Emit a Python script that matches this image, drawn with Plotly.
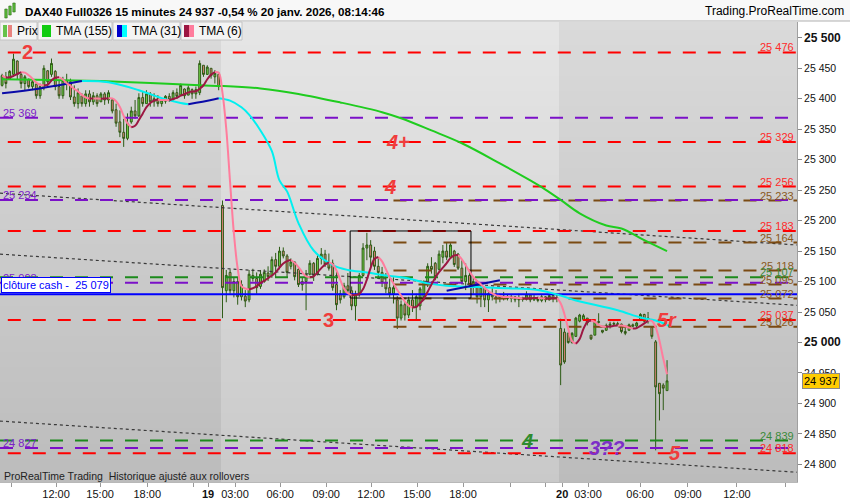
import plotly.graph_objects as go
import pandas as pd

# ---------------- DATA ----------------
# 15-minute bars, Fri 16 / Mon 19 / Tue 20 Jan 2026 (bar index on x)
fri_open = [25422, 25436, 25432, 25440, 25462, 25440, 25425, 25432, 25420, 25424, 25405, 25418, 25446, 25440, 25445,
            25420, 25405, 25430, 25428, 25403, 25392, 25405, 25392, 25408, 25395, 25405, 25395, 25408, 25398, 25398,
            25382, 25362, 25345, 25335, 25362, 25380, 25372, 25402, 25392, 25408, 25395, 25400, 25392, 25396, 25404,
            25398, 25410, 25406, 25416, 25406, 25415, 25408, 25410, 25455, 25440, 25450, 25436, 25440]
fri_high = [25441, 25444, 25447, 25474, 25463, 25444, 25439, 25433, 25433, 25425, 25425, 25455, 25447, 25466, 25447,
            25431, 25436, 25441, 25433, 25422, 25417, 25409, 25414, 25414, 25411, 25409, 25411, 25411, 25414, 25400,
            25392, 25381, 25367, 25376, 25387, 25398, 25409, 25411, 25414, 25411, 25409, 25406, 25400, 25406, 25409,
            25414, 25417, 25425, 25417, 25422, 25417, 25420, 25463, 25455, 25455, 25450, 25447, 25444]
fri_low = [25420, 25417, 25431, 25436, 25431, 25417, 25414, 25417, 25414, 25400, 25400, 25414, 25420, 25436, 25414,
           25400, 25400, 25414, 25398, 25387, 25384, 25387, 25387, 25387, 25390, 25387, 25395, 25390, 25392, 25376,
           25354, 25337, 25321, 25332, 25359, 25367, 25370, 25387, 25392, 25387, 25387, 25387, 25387, 25392, 25395,
           25398, 25400, 25406, 25400, 25406, 25400, 25400, 25406, 25436, 25439, 25433, 25425, 25414]
fri_close = [25438, 25425, 25445, 25465, 25440, 25425, 25436, 25420, 25428, 25405, 25420, 25450, 25428, 25458, 25420,
             25405, 25430, 25425, 25403, 25392, 25410, 25392, 25408, 25395, 25405, 25392, 25408, 25398, 25410, 25380,
             25360, 25345, 25335, 25360, 25380, 25372, 25402, 25392, 25408, 25395, 25400, 25392, 25398, 25404, 25398,
             25410, 25404, 25422, 25405, 25418, 25408, 25415, 25458, 25440, 25452, 25438, 25442, 25420]

mon_open = [25225, 25085, 25115, 25085, 25100, 25075, 25076, 25070, 25110, 25105, 25092, 25100, 25114, 25110, 25136,
            25125, 25150, 25142, 25125, 25132, 25120, 25095, 25100, 25112, 25130, 25112, 25138, 25145, 25130, 25130,
            25095, 25080, 25075, 25093, 25085, 25060, 25078, 25110, 25155, 25160, 25150, 25125, 25115, 25098, 25090,
            25080, 25070, 25040, 25062, 25045, 25070, 25058, 25060, 25075, 25095, 25125, 25130, 25120, 25140, 25150,
            25140, 25150, 25145, 25122, 25100, 25110, 25095, 25100, 25075, 25090, 25070, 25080, 25075, 25072, 25076,
            25074, 25072, 25075, 25070, 25072, 25071, 25078, 25070, 25074, 25069, 25075, 25070, 25077, 25072]
mon_high = [25233, 25119, 25120, 25107, 25106, 25102, 25086, 25119, 25121, 25115, 25119, 25120, 25125, 25141, 25147,
            25157, 25156, 25145, 25138, 25133, 25125, 25107, 25119, 25135, 25132, 25143, 25155, 25152, 25146, 25136,
            25119, 25086, 25098, 25114, 25092, 25085, 25114, 25163, 25180, 25168, 25157, 25140, 25124, 25114, 25107,
            25107, 25076, 25069, 25066, 25075, 25086, 25080, 25091, 25102, 25130, 25140, 25132, 25151, 25160, 25164,
            25163, 25152, 25147, 25135, 25130, 25119, 25108, 25102, 25097, 25091, 25086, 25091, 25086, 25080, 25083,
            25078, 25078, 25076, 25080, 25075, 25084, 25079, 25078, 25075, 25078, 25076, 25080, 25078, 25078]
mon_low = [25040, 25066, 25080, 25074, 25062, 25069, 25058, 25066, 25100, 25080, 25088, 25098, 25101, 25106, 25107,
           25120, 25138, 25106, 25120, 25102, 25091, 25085, 25053, 25110, 25101, 25110, 25128, 25124, 25118, 25085,
           25053, 25064, 25072, 25080, 25053, 25036, 25075, 25108, 25135, 25124, 25119, 25107, 25091, 25081, 25074,
           25064, 25022, 25036, 25036, 25040, 25050, 25036, 25053, 25069, 25091, 25113, 25102, 25118, 25130, 25135,
           25138, 25124, 25119, 25097, 25086, 25091, 25080, 25064, 25058, 25058, 25050, 25069, 25064, 25066, 25069,
           25069, 25066, 25066, 25058, 25067, 25069, 25066, 25068, 25066, 25066, 25066, 25069, 25066, 25066]
mon_close = [25090, 25110, 25085, 25100, 25075, 25095, 25068, 25112, 25105, 25090, 25112, 25115, 25108, 25136, 25125,
             25150, 25142, 25115, 25132, 25108, 25095, 25100, 25112, 25130, 25110, 25138, 25145, 25128, 25122, 25090,
             25062, 25070, 25093, 25085, 25060, 25078, 25110, 25155, 25160, 25140, 25125, 25115, 25098, 25088, 25080,
             25090, 25040, 25062, 25045, 25070, 25058, 25075, 25088, 25100, 25125, 25120, 25108, 25145, 25150, 25140,
             25160, 25128, 25122, 25100, 25110, 25095, 25100, 25075, 25090, 25070, 25080, 25075, 25072, 25076, 25074,
             25072, 25075, 25070, 25072, 25071, 25078, 25070, 25074, 25069, 25075, 25070, 25077, 25072, 25074]

tue_open = [25023, 25017, 25015, 25000, 25010, 25035, 25038, 25040, 25012, 25012, 25033, 25020, 25020, 25028, 25030,
            25031, 25030, 25018, 25020, 25029, 25027, 25036, 25046, 25035, 25025, 25001, 24933, 24930, 24921]
tue_high = [25039, 25023, 25017, 25017, 25042, 25047, 25047, 25040, 25012, 25036, 25048, 25020, 25031, 25034, 25034,
            25034, 25031, 25025, 25031, 25031, 25034, 25048, 25047, 25050, 25025, 25004, 24933, 24933, 24971]
tue_low = [24930, 24965, 24998, 24998, 25009, 25033, 25036, 25028, 25004, 25012, 25031, 25015, 25019, 25023, 25028,
           25028, 25015, 25012, 25020, 25025, 25022, 25036, 25033, 25031, 25006, 24823, 24872, 24889, 24921]
tue_close = [24963, 24968, 25000, 25015, 25040, 25045, 25044, 25032, 25006, 25034, 25034, 25017, 25028, 25030, 25031,
             25029, 25018, 25015, 25029, 25027, 25032, 25046, 25035, 25040, 25010, 24927, 24916, 24925, 24937]

# TMA(155) (bar index, value)
tma155_x = [0, 13, 26, 39, 52, 58, 68, 78, 89, 100, 105, 113, 121, 131, 139, 142, 147, 152, 159, 163, 169, 175]
tma155_y = [25432, 25431, 25429, 25426, 25422, 25421, 25417, 25408, 25394, 25378, 25368, 25348, 25327, 25294,
            25266, 25255, 25234, 25212, 25192, 25187, 25168, 25150]
# TMA(31)
tma31_x = [0, 10, 21, 28, 36, 42, 47, 49, 55, 57, 60, 63, 65, 68, 71, 73, 75, 78, 82, 87, 91, 96, 101, 107, 112,
           117, 125, 133, 141, 147, 151, 162, 168, 172, 176]
tma31_y = [25409, 25417, 25429, 25427, 25414, 25401, 25393, 25391, 25398, 25401, 25397, 25386, 25374, 25348, 25314,
           25266, 25248, 25196, 25151, 25127, 25119, 25115, 25110, 25105, 25097, 25093, 25091, 25089, 25086, 25077,
           25069, 25053, 25041, 25036, 25026]
tma31_seg_x = [117, 131]
tma31_seg_y = [25085, 25102]

# horizontal levels
red_levels = [25476, 25329, 25256, 25183, 25037, 24818]
purple_levels = [25369, 25234, 25098, 24827]
green_levels = [25107, 24839]
brown_levels = [25233, 25164, 25118, 25095, 25072, 25026]
brown_start = 103
cash_close = 25079

# dotted trend lines (ends at the chart edges)
trend_x = [-0.55, 209.2]
trend_lines = [[25245, 25160], [25145, 25061], [24871, 24787]]

# rectangle drawn on the chart
box_x = [91.6, 123.4]
box_y = [25073, 25183]

# wave labels: (bar index, price, text, colour)
wave_labels = [
    (6.6, 25476, "<b>2</b>", "#f03c3c"),
    (104.2, 25329, "<b><i>4+</i></b>", "#f03c3c"),
    (102.0, 25256, "<b><i>4</i></b>", "#f03c3c"),
    (85.8, 25037, "<b>3</b>", "#f03c3c"),
    (138.2, 24839, "<b><i>4</i></b>", "#2e8b2e"),
    (159.2, 24827, "<b><i>3??</i></b>", "#7d2fc8"),
    (177.1, 24818, "<b><i>5</i></b>", "#f03c3c"),
    (175.0, 25037, "<b><i>5r</i></b>", "#f03c3c"),
]

session_starts = [0, 58, 147]

# x tick positions (bar index) and labels
tick_idx = [2.4, 14.2, 25.8, 38.2, 50.5, 54.2, 61.3, 73.2, 85.3, 97.1, 109.2, 121.3, 133.7, 142.9, 147.4, 154.2,
            167.9, 180.5, 193.4, 206.3]
tick_lbl = ["", "12:00", "15:00", "18:00", "", "<b>19</b>", "03:00", "06:00", "09:00", "12:00", "15:00", "18:00",
            "", "", "<b>20</b>", "03:00", "06:00", "09:00", "12:00", ""]

last_price = 24937
y_range = [24771, 25526]
x_range = [-0.55, 209.2]

# ---------------- BUILD ----------------
opens = fri_open + mon_open + tue_open
highs = fri_high + mon_high + tue_high
lows = fri_low + mon_low + tue_low
closes = fri_close + mon_close + tue_close
idx = list(range(len(opens)))

FONT = "Liberation Sans, Arial, sans-serif"
W, H = 850, 500
PL, PR, PT, PB = 0, 53, 22, 18
PW, PH = W - PL - PR, H - PT - PB


def px_x(px):
    return (px - PL) / PW


def px_y(py):
    return (H - PB - py) / PH


fig = go.Figure()

# background: vertical gray gradient, alternating per session (heatmap sits below candles)
bounds = [x_range[0]] + [s - 0.45 for s in session_starts[1:]] + [x_range[1]]
nrows = 60
y_edges = [y_range[0] + (y_range[1] - y_range[0]) * r / nrows for r in range(nrows + 1)]
shade = {False: (0xbc, 0xda), True: (0xc9, 0xe6)}
z = []
for r in range(nrows):
    f = (r + 0.5) / nrows
    row = []
    for c in range(len(bounds) - 1):
        lo, hi = shade[c % 2 == 1]
        row.append(lo + (hi - lo) * f)
    z.append(row)
fig.add_trace(go.Heatmap(x=bounds, y=y_edges, z=z, zmin=0, zmax=255,
                         colorscale=[[0, "#000000"], [1, "#ffffff"]], showscale=False,
                         hoverinfo="skip", zsmooth=False))

# candles
fig.add_trace(go.Candlestick(
    x=idx, open=opens, high=highs, low=lows, close=closes,
    increasing=dict(line=dict(color="#2c5a14", width=1), fillcolor="#74d94a"),
    decreasing=dict(line=dict(color="#2c5a14", width=1), fillcolor="#e8837f"),
    whiskerwidth=0, showlegend=False, hoverinfo="skip"))

# dotted trend lines
for tl in trend_lines:
    fig.add_trace(go.Scatter(x=trend_x, y=tl, mode="lines",
                             line=dict(color="#3a3a3a", width=1.2, dash="3px,3px"),
                             hoverinfo="skip", showlegend=False))


def hline(level, color, x0=x_range[0], x1=x_range[1], dash="13px,12px", width=2):
    fig.add_trace(go.Scatter(x=[x0, x1], y=[level, level], mode="lines",
                             line=dict(color=color, width=width, dash=dash),
                             hoverinfo="skip", showlegend=False))


for lv in brown_levels:
    hline(lv, "#7a4a12", x0=brown_start)
for lv in green_levels:
    hline(lv, "#1c8a1c")
for lv in purple_levels:
    hline(lv, "#7b10c8", x1=208.2)
for lv in red_levels:
    hline(lv, "#ff0000", x0=1.5)
hline(cash_close, "#0000ff", dash="solid", width=2)

# rectangle
fig.add_trace(go.Scatter(x=[box_x[0], box_x[1], box_x[1], box_x[0], box_x[0]],
                         y=[box_y[0], box_y[0], box_y[1], box_y[1], box_y[0]],
                         mode="lines", line=dict(color="#000000", width=1),
                         hoverinfo="skip", showlegend=False))


def split_by_slope(xs, ys):
    up_x, up_y, dn_x, dn_y = [], [], [], []
    prev = None
    for i in range(1, len(xs)):
        d = "up" if ys[i] >= ys[i - 1] else "dn"
        tx, ty = (up_x, up_y) if d == "up" else (dn_x, dn_y)
        if d != prev:
            tx.append(None)
            ty.append(None)
            tx.append(xs[i - 1])
            ty.append(ys[i - 1])
        tx.append(xs[i])
        ty.append(ys[i])
        prev = d
    return up_x, up_y, dn_x, dn_y


# TMA(155)
fig.add_trace(go.Scatter(x=tma155_x, y=tma155_y, mode="lines", line=dict(color="#1fcc1f", width=2, shape="spline"),
                         hoverinfo="skip", showlegend=False))
# TMA(31)
ux, uy, dx, dy = split_by_slope(tma31_x, tma31_y)
fig.add_trace(go.Scatter(x=dx, y=dy, mode="lines", line=dict(color="#00f0f0", width=2, shape="spline"),
                         hoverinfo="skip", showlegend=False))
fig.add_trace(go.Scatter(x=ux, y=uy, mode="lines", line=dict(color="#0a0aa8", width=2, shape="spline"),
                         hoverinfo="skip", showlegend=False))
fig.add_trace(go.Scatter(x=tma31_seg_x, y=tma31_seg_y, mode="lines", line=dict(color="#0a0aa8", width=2),
                         hoverinfo="skip", showlegend=False))
# TMA(6) computed from closes
cs = pd.Series(closes, dtype=float)
tma6 = cs.rolling(3, min_periods=1).mean().rolling(4, min_periods=1).mean().tolist()
ux, uy, dx, dy = split_by_slope(idx, tma6)
fig.add_trace(go.Scatter(x=dx, y=dy, mode="lines", line=dict(color="#ff7d9d", width=2, shape="spline"),
                         hoverinfo="skip", showlegend=False))
fig.add_trace(go.Scatter(x=ux, y=uy, mode="lines", line=dict(color="#9c1742", width=2, shape="spline"),
                         hoverinfo="skip", showlegend=False))

ann = []
shapes = []


def fmt(v):
    return f"{v:,}".replace(",", " ")


# level labels
for lv in red_levels:
    ann.append(dict(xref="paper", x=1, xanchor="right", xshift=-2, yref="y", y=lv, yanchor="bottom", yshift=-2,
                    text=fmt(lv), showarrow=False, borderpad=0, font=dict(family=FONT, size=11, color="#ff2a2a")))
for lv in brown_levels:
    ann.append(dict(xref="paper", x=1, xanchor="right", xshift=-2, yref="y", y=lv, yanchor="bottom", yshift=-2,
                    text=fmt(lv), showarrow=False, borderpad=0, font=dict(family=FONT, size=11, color="#8a5a22")))
for lv in green_levels:
    ann.append(dict(xref="paper", x=1, xanchor="right", xshift=-2, yref="y", y=lv, yanchor="bottom", yshift=-2,
                    text=fmt(lv), showarrow=False, borderpad=0, font=dict(family=FONT, size=11, color="#3a8a3a")))
for lv in purple_levels:
    ann.append(dict(xref="paper", x=0, xanchor="left", xshift=2, yref="y", y=lv, yanchor="bottom", yshift=-2,
                    text=fmt(lv), showarrow=False, borderpad=0, font=dict(family=FONT, size=11, color="#7b22c8")))

ann.append(dict(xref="paper", x=0, xanchor="left", xshift=1, yref="y", y=cash_close, yanchor="bottom", yshift=1,
                text="clôture cash -  " + fmt(cash_close), showarrow=False, bgcolor="#ffffff",
                bordercolor="#0000ff", borderwidth=1, borderpad=1,
                font=dict(family=FONT, size=11, color="#0000ff")))

for x, y, t, c in wave_labels:
    ann.append(dict(x=x, y=y, xref="x", yref="y", text=t, showarrow=False,
                    font=dict(family=FONT, size=20, color=c)))

# last price box
ann.append(dict(xref="paper", x=1, xanchor="left", xshift=5, yref="y", y=last_price, text=fmt(last_price),
                showarrow=False, bgcolor="#ffcc00", bordercolor="#8a8a8a", borderwidth=1, borderpad=1,
                font=dict(family=FONT, size=11, color="#000000")))

# header
shapes.append(dict(type="rect", xref="paper", yref="paper", x0=px_x(0), x1=px_x(W), y0=px_y(21), y1=px_y(0),
                   fillcolor="#f8f8f8", line=dict(width=0), layer="above"))
shapes.append(dict(type="line", xref="paper", yref="paper", x0=px_x(0), x1=px_x(W), y0=px_y(21), y1=px_y(21),
                   line=dict(color="#b0b0b0", width=1), layer="above"))
for (cx, a, b) in [(6, 9, 18), (10, 6, 15), (14, 3, 12)]:
    shapes.append(dict(type="rect", xref="paper", yref="paper", x0=px_x(cx - 1.2), x1=px_x(cx + 1.2),
                       y0=px_y(b), y1=px_y(a), fillcolor="#5cbf3c", line=dict(color="#2c6a14", width=0.6),
                       layer="above"))
ann.append(dict(xref="paper", yref="paper", x=px_x(23), y=px_y(11), xanchor="left", yanchor="middle",
                text="<b>DAX40 Full0326 15 minutes 24 937 -0,54 % 20 janv. 2026, 08:14:46</b>", showarrow=False,
                font=dict(family=FONT, size=11.6, color="#000000")))
ann.append(dict(xref="paper", yref="paper", x=px_x(846), y=px_y(11), xanchor="right", yanchor="middle",
                text="Trading.ProRealTime.com", showarrow=False, font=dict(family=FONT, size=12, color="#000000")))

# legend boxes
legend_items = [
    (0, 37, "Prix", [("#66c24a", 3, 7), ("#e8837f", 8, 12)]),
    (38, 112, "TMA (155)", [("#11cc11", 42, 51)]),
    (113, 180, "TMA (31)", [("#0000cc", 117, 122), ("#00ffff", 122, 127)]),
    (181, 242, "TMA (6)", [("#9c1742", 184, 189), ("#ff7d9d", 189, 194)]),
]
for x0, x1, label, icons in legend_items:
    shapes.append(dict(type="rect", xref="paper", yref="paper", x0=px_x(x0), x1=px_x(x1), y0=px_y(40), y1=px_y(22),
                       fillcolor="#f4f4f4", line=dict(color="#c4c4c4", width=1), layer="above"))
    for col, ix0, ix1 in icons:
        shapes.append(dict(type="rect", xref="paper", yref="paper", x0=px_x(ix0), x1=px_x(ix1), y0=px_y(37),
                           y1=px_y(25), fillcolor=col, line=dict(width=0), layer="above"))
    ann.append(dict(xref="paper", yref="paper", x=px_x(icons[-1][2] + 3), y=px_y(31), xanchor="left",
                    yanchor="middle", text=label, showarrow=False, font=dict(family=FONT, size=12, color="#000")))

ann.append(dict(xref="paper", yref="paper", x=px_x(2), y=px_y(476), xanchor="left", yanchor="middle",
                text="ProRealTime Trading  Historique ajusté aux rollovers", showarrow=False,
                font=dict(family=FONT, size=10.5, color="#222222")))

y_ticks = list(range(24800, 25501, 50))
y_text = [("<b><span style='font-size:12px'>" + fmt(v) + "</span></b>") if v % 500 == 0 else fmt(v) for v in y_ticks]

fig.update_layout(
    width=W, height=H, margin=dict(l=PL, r=PR, t=PT, b=PB),
    paper_bgcolor="#ffffff", plot_bgcolor="#d0d0d0",
    showlegend=False, annotations=ann, shapes=shapes,
    font=dict(family=FONT, size=11, color="#111111"),
    xaxis=dict(range=x_range, rangeslider=dict(visible=False), showgrid=False, zeroline=False,
               tickmode="array", tickvals=tick_idx, ticktext=tick_lbl, ticks="outside", ticklen=4,
               tickcolor="#999999", showline=True, linecolor="#b8b8b8", ticklabelstandoff=-2,
               tickfont=dict(size=11, color="#111111")),
    yaxis=dict(range=y_range, side="right", showgrid=False, zeroline=False, tickmode="array",
               tickvals=y_ticks, ticktext=y_text, ticks="outside", ticklen=4, tickcolor="#888888",
               showline=True, linecolor="#a0a0a0",
               tickfont=dict(size=10.5, color="#111111")),
)

fig.write_html("out.html", config={"displayModeBar": False},
               post_script="document.body.style.margin='0px';document.body.style.overflow='hidden';")
